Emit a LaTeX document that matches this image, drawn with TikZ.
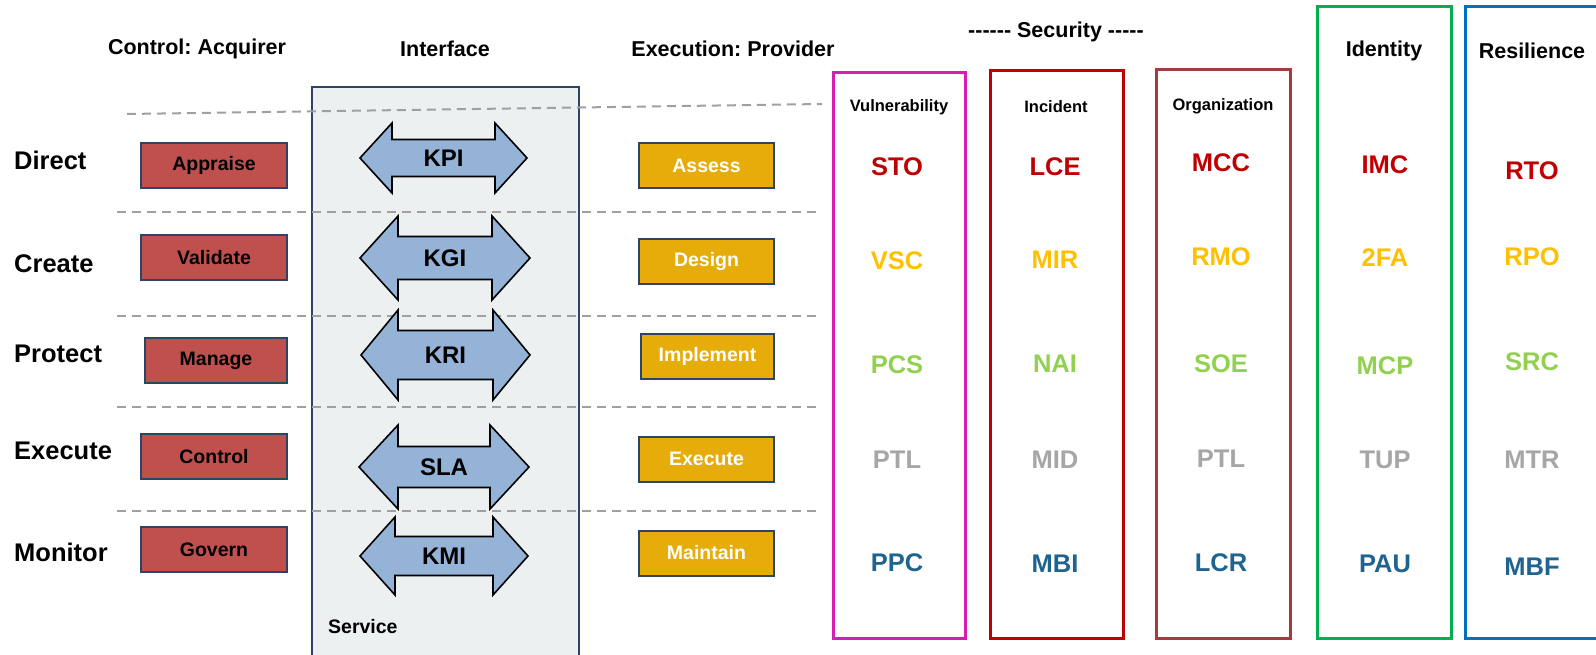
\documentclass[tikz,border=0pt]{standalone}
\usepackage{fontspec}
\setmainfont{Liberation Sans}
\usepackage{tikz}
\usetikzlibrary{positioning}
\frenchspacing

\definecolor{acqred}{HTML}{C0504D}
\definecolor{provyellow}{HTML}{E5AC0A}
\definecolor{ifblue}{HTML}{95B3D7}
\definecolor{svcgray}{HTML}{ECF0F1}
\definecolor{edgenavy}{HTML}{2C4566}
\definecolor{sepgray}{HTML}{A0A0A0}
\definecolor{lvl1}{HTML}{C00000}
\definecolor{lvl2}{HTML}{FFC000}
\definecolor{lvl3}{HTML}{92D050}
\definecolor{lvl4}{HTML}{A6A6A6}
\definecolor{lvl5}{HTML}{1F6391}
\definecolor{vulcol}{HTML}{D91DB0}
\definecolor{inccol}{HTML}{C00000}
\definecolor{orgcol}{HTML}{A33C3C}
\definecolor{idcol}{HTML}{00B050}
\definecolor{rescol}{HTML}{0070C0}

\newcommand{\fsz}[1]{\fontsize{#1}{#1}\selectfont\bfseries}

\tikzset{
  heading/.style={font=\fsz{21.5}, inner sep=0pt},
  colhead/.style={font=\fsz{16.5}, inner sep=0pt},
  rowlabel/.style={font=\fsz{25.5}, anchor=west, inner sep=0pt},
  acqbox/.style={draw=edgenavy, line width=2pt, fill=acqred, font=\fsz{19.5}, minimum height=45, inner sep=0pt},
  provbox/.style={draw=edgenavy, line width=2pt, fill=provyellow, text=white, font=\fsz{19.5}, minimum height=45, inner sep=0pt},
  ifarrow/.style={draw=black, line width=1.6pt, fill=ifblue, line join=miter},
  arrowlabel/.style={font=\fsz{24}, inner sep=0pt},
  code/.style={font=\fsz{25.5}, inner sep=0pt},
  sepline/.style={sepgray, line width=2pt, dash pattern=on 9pt off 6pt},
  colbox/.style={line width=3pt}
}

\begin{document}
\begin{tikzpicture}[x=1pt, y=-1pt]
	\clip (0,0) rectangle (1596,655);
	\fill[white] (0,0) rectangle (1596,655);

	% Service panel behind the interface arrows
	\draw[draw=edgenavy, line width=2pt, fill=svcgray] (312,87) rectangle (579,670);
	\node[font=\fsz{19.5}, anchor=west, inner sep=0pt] (service) at (328,627) {Service};

	% Column titles
	\node[heading] (acquirer) at (197,49) {Control: Acquirer};
	\node[heading] (interface) at (445,49) {Interface};
	\node[heading] (provider) at (733,49) {Execution: Provider};
	\node[heading] (security) at (1056,32) {-{}-{}-{}-{}-{}- Security -{}-{}-{}-{}-};

	% Row separators
	\draw[sepline] (127,114) -- (822,104);
	\foreach \y/\xl in {212/117, 316/117, 407/117, 511/117} {
		\draw[sepline] (\xl,\y) -- (817,\y);
	}

	% Row labels
	\foreach \lbl/\y [count=\i] in {Direct/160, Create/264, Protect/354, Execute/451, Monitor/552} {
		\node[rowlabel] (row\i) at (14,\y) {\lbl};
	}

	% Acquirer side
	\foreach \txt/\x/\y/\w [count=\i] in {Appraise/214/165.5/146, Validate/214/257.5/146, Manage/216/360.5/142, Control/214/456.5/146, Govern/214/549.5/146} {
		\node[acqbox, minimum width=\w] (acq\i) at (\x,\y) {\txt};
	}

	% Provider side
	\foreach \txt/\x/\y/\w [count=\i] in {Assess/706.5/166/135, Design/706.5/261.5/135, Implement/707.5/356.5/133, Execute/706.5/459/135, Maintain/706.5/553/135} {
		\node[provbox, minimum width=\w] (prov\i) at (\x,\y) {\txt};
	}

	% Interface double arrows: name/text/left/right/centre/body/head/headlength
	\foreach \nm/\txt/\xl/\xr/\yc/\bh/\hh/\hl in {kpi/KPI/360/527/158/18.5/35/32, kgi/KGI/360/530/258/21.5/42/38, kri/KRI/361/530/355/24.5/45/37, sla/SLA/359/529/467/20.5/42/39, kmi/KMI/360/528/556/19.5/39/35} {
		\draw[ifarrow] (\xl,\yc) -- (\xl+\hl,\yc-\hh) -- (\xl+\hl,\yc-\bh) -- (\xr-\hl,\yc-\bh) -- (\xr-\hl,\yc-\hh) -- (\xr,\yc)
			-- (\xr-\hl,\yc+\hh) -- (\xr-\hl,\yc+\bh) -- (\xl+\hl,\yc+\bh) -- (\xl+\hl,\yc+\hh) -- cycle;
		\node[arrowlabel] (\nm) at ({(\xl+\xr)/2},\yc) {\txt};
	}

	% Security, identity and resilience columns
	\draw[colbox, vulcol] (833,73) rectangle (965,638);
	\draw[colbox, inccol] (990,71) rectangle (1123,638);
	\draw[colbox, orgcol] (1156,70) rectangle (1290,638);
	\draw[colbox, idcol] (1317,7) rectangle (1451,638);
	\draw[colbox, rescol] (1465,7) rectangle (1620,638);

	\node[colhead] (vulhead) at (899,107) {Vulnerability};
	\node[colhead] (inchead) at (1056,107) {Incident};
	\node[colhead] (orghead) at (1223,106) {Organization};
	\node[heading] (idhead) at (1384,51) {Identity};
	\node[heading] (reshead) at (1532,51) {Resilience};

	% Metric codes, coloured by row
	\foreach \cd/\y [count=\r] in {STO/167, VSC/261, PCS/365, PTL/460, PPC/563} {
		\node[code, text=lvl\r] (vul\r) at (897,\y) {\cd};
	}
	\foreach \cd/\y [count=\r] in {LCE/167, MIR/260, NAI/364, MID/460, MBI/564} {
		\node[code, text=lvl\r] (inc\r) at (1055,\y) {\cd};
	}
	\foreach \cd/\y [count=\r] in {MCC/163, RMO/257, SOE/364, PTL/459, LCR/563} {
		\node[code, text=lvl\r] (org\r) at (1221,\y) {\cd};
	}
	\foreach \cd/\y [count=\r] in {IMC/165, 2FA/258, MCP/366, TUP/460, PAU/564} {
		\node[code, text=lvl\r] (id\r) at (1385,\y) {\cd};
	}
	\foreach \cd/\y [count=\r] in {RTO/171, RPO/257, SRC/362, MTR/460, MBF/567} {
		\node[code, text=lvl\r] (res\r) at (1532,\y) {\cd};
	}
\end{tikzpicture}
\end{document}
